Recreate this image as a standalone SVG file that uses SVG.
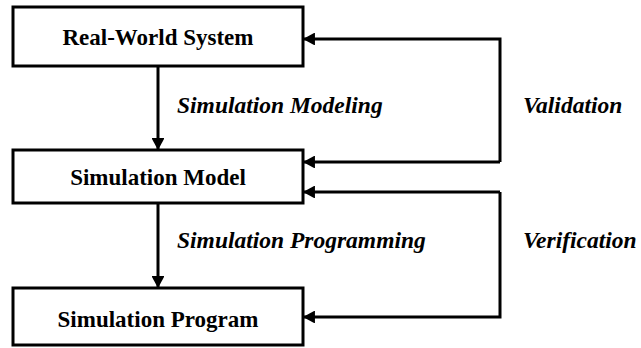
<svg xmlns="http://www.w3.org/2000/svg" width="641" height="348" viewBox="0 0 641 348">
  <style>
    .box { fill: #fff; stroke: #000; stroke-width: 3; }
    .name { font-family: 'Liberation Serif', 'Times New Roman', Times, serif; font-weight: 700; font-size: 23px; text-anchor: middle; fill: #000; }
    .label { font-family: 'Liberation Serif', 'Times New Roman', Times, serif; font-weight: 700; font-style: italic; font-size: 23.5px; fill: #000; }
    .wire { fill: none; stroke: #000; stroke-width: 3; }
  </style>
  <defs>
    <!-- solid triangular arrowhead shared by every connector -->
    <marker id="head" viewBox="0 0 12 13" refX="12" refY="6.5" markerWidth="4" markerHeight="4.3" markerUnits="strokeWidth" orient="auto">
      <path d="M0,0 L12,6.5 L0,13 Z" fill="#000"/>
    </marker>
  </defs>
  <rect width="641" height="348" fill="#fff"/>

  <g id="real-world-system">
    <rect class="box" x="13" y="7" width="290" height="59"/>
    <text class="name" x="158" y="45">Real-World System</text>
  </g>
  <g id="simulation-model">
    <rect class="box" x="13" y="150" width="290" height="53"/>
    <text class="name" x="158" y="185">Simulation Model</text>
  </g>
  <g id="simulation-program">
    <rect class="box" x="13" y="288" width="290" height="57"/>
    <text class="name" x="158" y="327">Simulation Program</text>
  </g>

  <g id="connectors">
    <path class="wire" d="M158,66 V150" marker-end="url(#head)"/>
    <path class="wire" d="M158,203 V288" marker-end="url(#head)"/>
    <path class="wire" d="M500,162 V39 H303" marker-end="url(#head)"/>
    <path class="wire" d="M500,162 H303" marker-end="url(#head)"/>
    <path class="wire" d="M500,192 V317 H303" marker-end="url(#head)"/>
    <path class="wire" d="M500,192 H303" marker-end="url(#head)"/>
  </g>

  <g id="labels">
    <text class="label" x="177" y="113">Simulation Modeling</text>
    <text class="label" x="523" y="113">Validation</text>
    <text class="label" x="177" y="248">Simulation Programming</text>
    <text class="label" x="523" y="248">Verification</text>
  </g>
</svg>
